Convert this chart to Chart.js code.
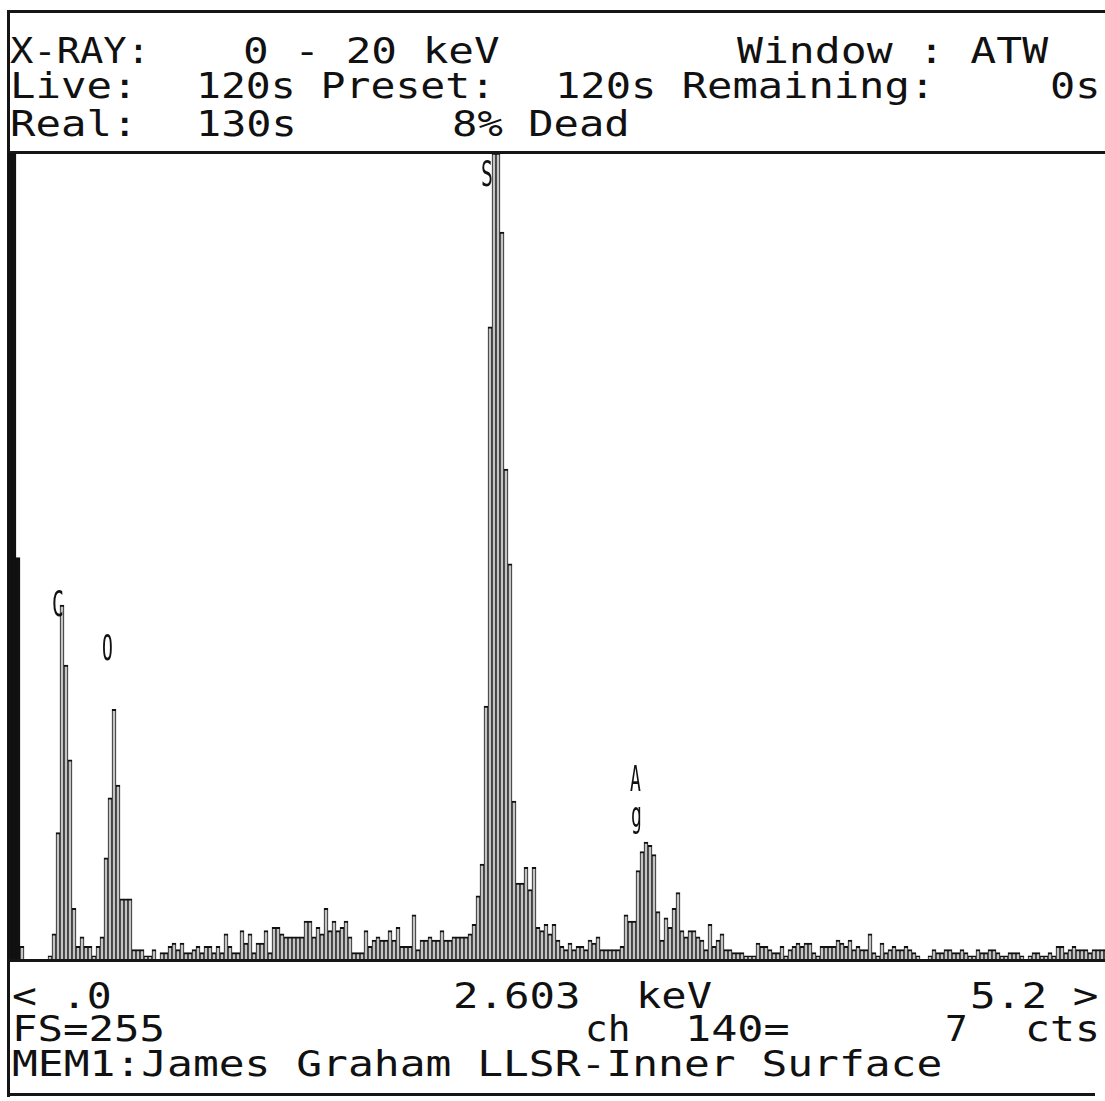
<!DOCTYPE html>
<html>
<head>
<meta charset="utf-8">
<script src="https://cdn.jsdelivr.net/npm/chart.js@4"></script>
<style>
    body { margin: 0; background: #fff; width: 1105px; height: 1101px; position: relative; overflow: hidden;
           font-family: "DejaVu Sans Mono", "Liberation Mono", monospace; color: #111; }
    .t { position: absolute; white-space: pre; font-size: 36px; line-height: 1; transform-origin: 0 0; }
    .ln { position: absolute; background: #151515; }
    #plot { position: absolute; left: 8px; top: 153px; }
</style>
</head>
<body>
<!-- frame -->
<div class="ln" style="left:7px;top:10px;width:1098px;height:3px"></div>
<div class="ln" style="left:7px;top:10px;width:3px;height:1087px"></div>
<div class="ln" style="left:7px;top:151px;width:1098px;height:3px"></div>
<div class="ln" style="left:7px;top:1093px;width:1088px;height:3px"></div>

<canvas id="plot" width="1100" height="806"></canvas>
<div class="ln" style="left:7px;top:959px;width:1098px;height:3px"></div>

<!-- header -->
<span class="t" style="left:10px;top:33px" data-w="140">X-RAY:</span>
<span class="t" style="left:243px;top:33px" data-w="257">0 - 20 keV</span>
<span class="t" style="left:737px;top:33px" data-w="311">Window : ATW</span>
<span class="t" style="left:10px;top:68px" data-w="127">Live:</span>
<span class="t" style="left:196px;top:68px" data-w="299">120s Preset:</span>
<span class="t" style="left:555px;top:68px" data-w="380">120s Remaining:</span>
<span class="t" style="left:1050px;top:68px" data-w="50">0s</span>
<span class="t" style="left:10px;top:106px" data-w="127">Real:</span>
<span class="t" style="left:196px;top:106px" data-w="101">130s</span>
<span class="t" style="left:452px;top:106px" data-w="178">8% Dead</span>

<!-- peak labels -->
<span class="t" style="left:52px;top:586px" data-w="12">C</span>
<span class="t" style="left:102px;top:630px" data-w="11">O</span>
<span class="t" style="left:481px;top:156px" data-w="12">S</span>
<span class="t" style="left:630px;top:761px" data-w="11">A</span>
<span class="t" style="left:631px;top:797px" data-w="11">g</span>

<!-- footer -->
<span class="t" style="left:12px;top:978px" data-w="100">&lt; .0</span>
<span class="t" style="left:453px;top:978px" data-w="127">2.603</span>
<span class="t" style="left:636px;top:978px" data-w="76">keV</span>
<span class="t" style="left:970px;top:978px" data-w="128">5.2 &gt;</span>
<span class="t" style="left:12px;top:1011px" data-w="153">FS=255</span>
<span class="t" style="left:585px;top:1011px" data-w="45">ch</span>
<span class="t" style="left:685px;top:1011px" data-w="105">140=</span>
<span class="t" style="left:945px;top:1011px" data-w="23">7</span>
<span class="t" style="left:1025px;top:1011px" data-w="75">cts</span>
<span class="t" style="left:12px;top:1046px" data-w="930">MEM1:James Graham LLSR-Inner Surface</span>

<script>
// counts per channel (full scale = 255)
const lowEnergy = [255, 255, 127, 4, 0, 0, 0, 0, 0, 0, 1, 8, 40, 112, 93, 63, 16, 4, 7, 4,
    4, 1, 4, 7, 32, 51, 79, 55, 19, 19, 19, 3];
const midBackground = [3, 3, 1, 1, 3, 0, 2, 2, 4, 5, 3, 5, 2, 2, 3, 4, 2, 4, 4, 2,
    4, 2, 8, 4, 2, 2, 9, 5, 8, 2, 5, 5, 9, 2, 10, 10, 8, 7, 7, 7,
    7, 7, 12, 12, 7, 10, 8, 16, 9, 12, 9, 10, 12, 7, 2, 2, 2, 9, 4, 6,
    7, 6, 6, 9, 6, 10, 4, 4, 4, 14, 3, 6, 6, 7, 6, 6, 9, 6, 6, 7,
    7, 7, 7];
const siPeak = [8, 11, 20, 30, 80, 200, 255, 255, 230, 155, 125, 50, 24, 24, 29, 22, 29, 10, 9, 11,
    8, 11];
const preAg = [6, 4, 3, 5, 3, 4, 4, 3, 6, 5, 7];
const agPeak = [3, 3, 3, 3, 3, 4, 14, 12, 12, 28, 34, 37, 36, 33, 15, 6, 13, 10, 16, 21,
    9, 7, 9, 9, 7, 6, 3, 11, 4, 6, 8, 3, 3, 2, 2, 2, 1, 1, 1, 5,
    4, 4, 3, 2, 2];
const tail = [4, 1, 3, 4, 5, 4, 5, 5, 2, 1, 4, 4, 4, 4, 6, 5, 4, 6, 3, 4,
    3, 3, 8, 2, 1, 5, 2, 3, 4, 3, 3, 4, 3, 2, 1, 0, 0, 1, 3, 2,
    2, 3, 3, 2, 2, 3, 2, 1, 1, 3, 2, 2, 3, 3, 2, 1, 1, 2, 2, 2,
    1, 0, 1, 2, 2, 1, 1, 2, 1, 4, 4, 2, 3, 4, 3, 3, 3, 2, 3, 3,
    3, 3];

const counts = [...lowEnergy, ...midBackground, ...siPeak, ...preAg, ...agPeak, ...tail];
const channels = counts.map((_, i) => i);

// squeeze each text piece to the width it takes on the screen
document.querySelectorAll('.t').forEach(el => {
    const w = +el.dataset.w;
    el.style.transform = `scaleX(${w / el.offsetWidth})`;
});

const ctx = document.getElementById('plot').getContext('2d');
new Chart(ctx, {
    type: 'bar',
    data: {
        labels: channels,
        datasets: [{
            data: counts,
            backgroundColor: c => c.dataIndex < 3 ? '#111' : '#c4c4c4',
            borderColor: '#111',
            borderWidth: { top: 2, left: 1, right: 1, bottom: 0 },
            barPercentage: 1,
            categoryPercentage: 1
        }]
    },
    options: {
        responsive: false,
        animation: false,
        layout: { padding: 0 },
        plugins: { legend: { display: false }, tooltip: { enabled: false } },
        scales: {
            x: { display: false },
            y: { display: false, min: 0, max: 255 }
        }
    }
});
</script>
</body>
</html>
